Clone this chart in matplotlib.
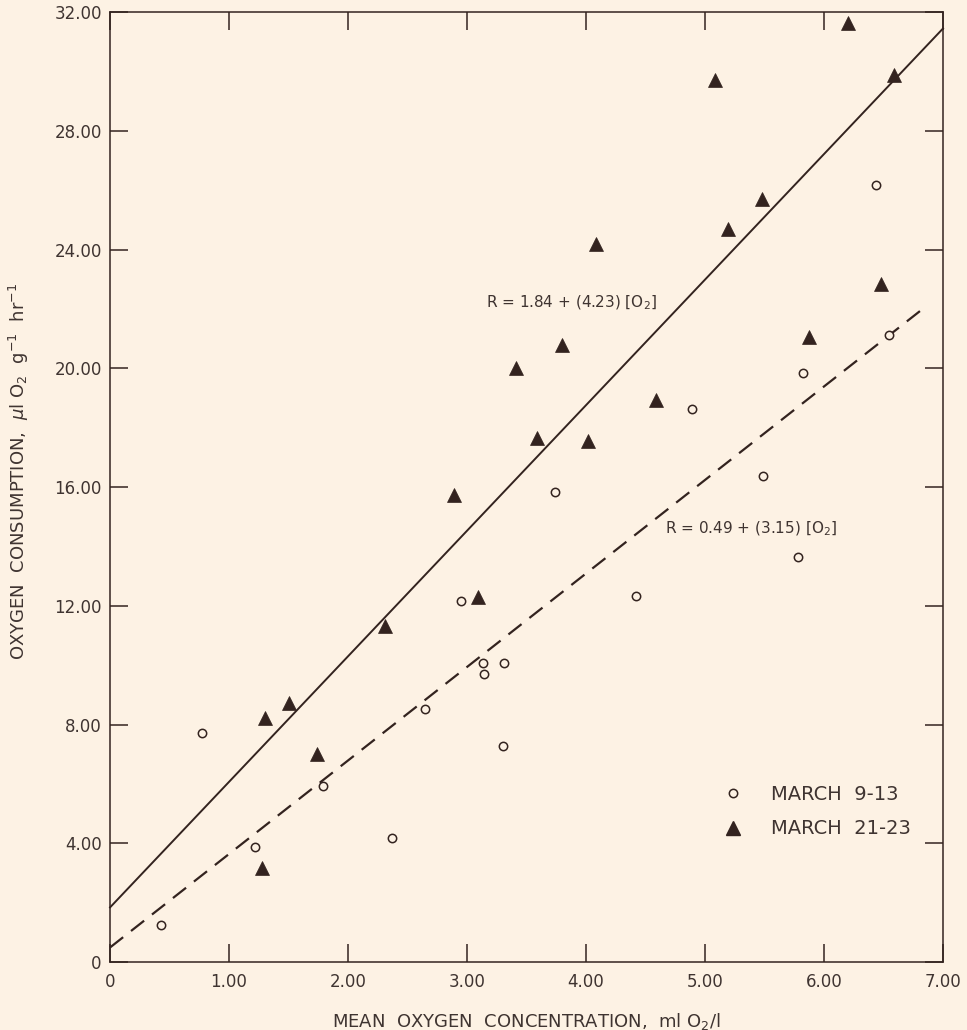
"""
Oxygen consumption vs. mean oxygen concentration, two sampling periods,
with fitted regression lines.
"""

import matplotlib
matplotlib.use("Agg")
import matplotlib.pyplot as plt
from matplotlib.lines import Line2D

# March 9-13 (open circles)
march_9_13_x = [0.43, 0.77, 1.22, 1.79, 2.37, 2.65, 2.95, 3.13, 3.14, 3.31,
                3.30, 3.74, 4.42, 4.89, 5.49, 5.78, 5.82, 6.44, 6.55]
march_9_13_y = [1.24, 7.72, 3.88, 5.93, 4.17, 8.53, 12.16, 10.08, 9.69, 10.08,
                7.28, 15.84, 12.33, 18.64, 16.38, 13.66, 19.83, 26.19, 21.12]

# March 21-23 (filled triangles)
march_21_23_x = [1.28, 1.305, 1.50, 1.74, 2.31, 2.89, 3.095, 3.41, 3.59, 3.80,
                 4.02, 4.08, 4.59, 5.08, 5.19, 5.48, 5.87, 6.20, 6.48, 6.59]
march_21_23_y = [3.18, 8.21, 8.73, 7.00, 11.32, 15.72, 12.30, 20.02, 17.66, 20.80,
                 17.55, 24.18, 18.93, 29.73, 24.70, 25.69, 21.04, 31.64, 22.84, 29.87]

# regression lines, as printed on the chart
fit_21_23 = {"a": 1.84, "b": 4.23, "x": [0.0, 7.0]}
fit_9_13 = {"a": 0.49, "b": 3.15, "x": [0.0, 6.87]}

x_ticks = [0, 1, 2, 3, 4, 5, 6, 7]
x_tick_labels = ["0", "1.00", "2.00", "3.00", "4.00", "5.00", "6.00", "7.00"]
y_ticks = [0, 4, 8, 12, 16, 20, 24, 28, 32]
y_tick_labels = ["0", "4.00", "8.00", "12.00", "16.00", "20.00", "24.00", "28.00", "32.00"]

colors = {
    "background": "#fdf2e4",
    "ink": "#33231f",
    "text": "#3f3431",
}

fig = plt.figure(figsize=(9.67, 10.30), dpi=100)
fig.patch.set_facecolor(colors["background"])
ax = fig.add_axes([0.1138, 0.066, 0.8614, 0.9222])
ax.set_facecolor(colors["background"])

# fitted lines
for fit, style in ((fit_21_23, "-"), (fit_9_13, (0, (7.5, 4.5)))):
    ys = [fit["a"] + fit["b"] * x for x in fit["x"]]
    ax.plot(fit["x"], ys, color=colors["ink"], linestyle=style,
            linewidth=1.4 if style == "-" else 1.6, zorder=2, clip_on=False)

# points
ax.plot(march_9_13_x, march_9_13_y, linestyle="none", marker="o",
        markersize=6, markerfacecolor=colors["background"],
        markeredgecolor=colors["ink"], markeredgewidth=1.1, zorder=3)
ax.plot(march_21_23_x, march_21_23_y, linestyle="none", marker="^",
        markersize=10, markerfacecolor=colors["ink"],
        markeredgecolor=colors["ink"], markeredgewidth=0.5, zorder=3)

ax.set_xlim(0, 7)
ax.set_ylim(0, 32)
ax.set_xticks(x_ticks)
ax.set_xticklabels(x_tick_labels)
ax.set_yticks(y_ticks)
ax.set_yticklabels(y_tick_labels)
ax.tick_params(direction="in", length=13, width=1.1, colors=colors["ink"],
               labelcolor=colors["text"], labelsize=12,
               top=True, right=True)
ax.tick_params(axis="x", pad=8)
ax.tick_params(axis="y", pad=6)
for spine in ax.spines.values():
    spine.set_color(colors["ink"])
    spine.set_linewidth(1.1)

ax.set_xlabel(r"MEAN  OXYGEN  CONCENTRATION,  ml O$_2$/l",
              fontsize=13, color=colors["text"], labelpad=14)
ax.set_ylabel(r"OXYGEN  CONSUMPTION,  $\mu$l O$_2$  g$^{-1}$  hr$^{-1}$",
              fontsize=13, color=colors["text"])
ax.yaxis.set_label_coords(-0.095, 0.516)

# equations
ax.text(3.16, 22.2, r"R = 1.84 + (4.23) [O$_2$]", fontsize=11,
        color=colors["text"], ha="left", va="center")
ax.text(4.66, 14.6, r"R = 0.49 + (3.15) [O$_2$]", fontsize=11,
        color=colors["text"], ha="left", va="center")

# legend
handles = [
    Line2D([], [], linestyle="none", marker="o", markersize=6,
           markerfacecolor=colors["background"], markeredgecolor=colors["ink"],
           markeredgewidth=1.1),
    Line2D([], [], linestyle="none", marker="^", markersize=10,
           markerfacecolor=colors["ink"], markeredgecolor=colors["ink"]),
]
legend = ax.legend(handles, ["MARCH  9-13", "MARCH  21-23"], loc="upper left",
                   bbox_to_anchor=(0.715, 0.205), frameon=False, fontsize=14,
                   handlelength=1.0, handletextpad=1.45, labelspacing=0.8)
for text in legend.get_texts():
    text.set_color(colors["text"])

fig.savefig("out.png", dpi=100, facecolor=colors["background"])
